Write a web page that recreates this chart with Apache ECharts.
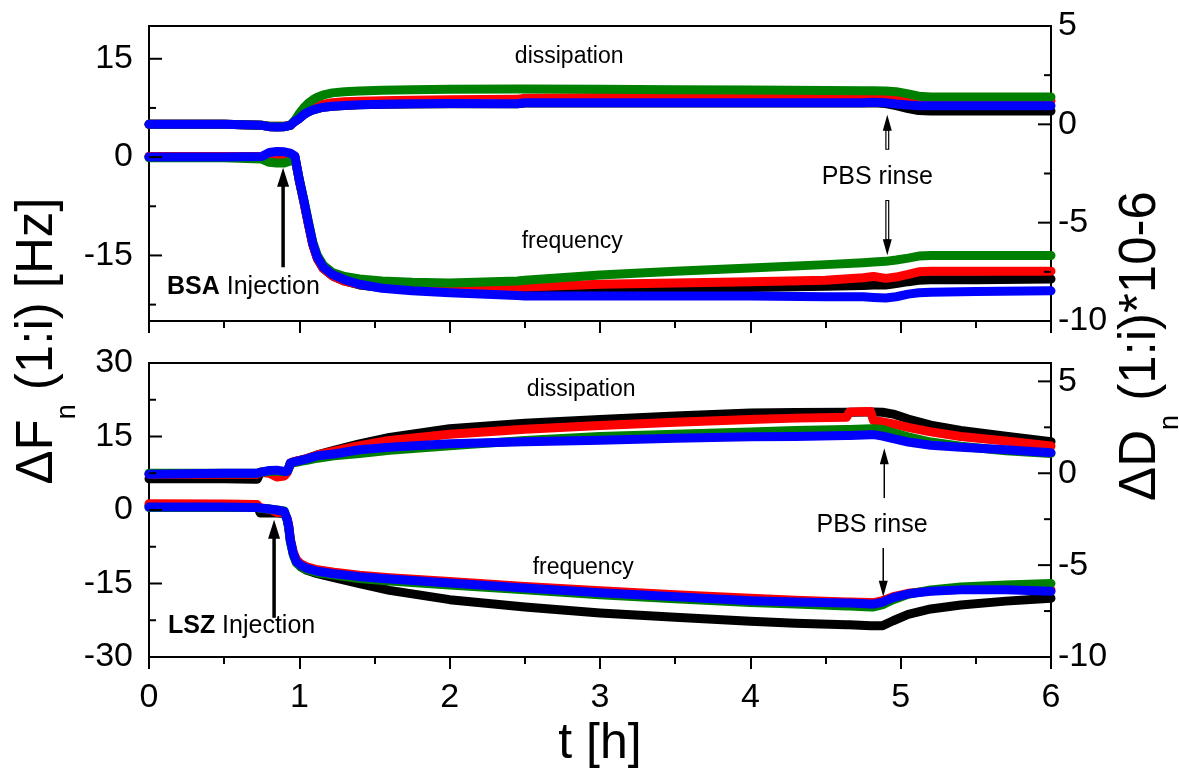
<!DOCTYPE html>
<html>
<head>
<meta charset="utf-8">
<script src="https://cdn.jsdelivr.net/npm/echarts@6/dist/echarts.min.js"></script>
<style>html,body{margin:0;padding:0;background:#fff}#c{width:1179px;height:776px}</style>
</head>
<body>
<div id="c"></div>
<script>
// ---------- DATA ----------
// Top panel (BSA) time points [h]
const tTop = [0, 0.5, 0.75, 0.8, 0.85, 0.9, 0.94, 0.97, 1.0, 1.03, 1.06, 1.09, 1.12, 1.16, 1.22, 1.3, 1.4, 1.55, 1.75, 2.0, 2.45, 2.5, 3.0, 3.5, 4.0, 4.5, 4.75, 4.82, 4.9, 4.97, 5.05, 5.12, 5.2, 5.5, 6.0];
// Top frequency ΔF [Hz]
const topFreqBlack = [0.1, 0.1, 0.1, 0.3, 0.3, 0.3, 0.3, 0.1, -3.6, -6.8, -10.2, -13.4, -15.5, -17.0, -18.1, -18.9, -19.5, -19.9, -20.1, -20.2, -20.3, -20.3, -20.2, -20.0, -19.9, -19.7, -19.6, -19.5, -19.5, -19.3, -19.0, -18.8, -18.7, -18.7, -18.6];
const topFreqRed   = [0.1, 0.1, 0.1, 0.3, 0.3, 0.3, 0.3, 0.1, -3.6, -6.8, -10.2, -13.4, -15.5, -17.0, -18.1, -18.9, -19.4, -19.8, -20.0, -20.0, -19.9, -19.8, -19.4, -19.2, -19.0, -18.8, -18.4, -18.2, -18.5, -18.3, -17.9, -17.5, -17.4, -17.4, -17.4];
const topFreqGreen = [-0.1, -0.1, -0.3, -0.8, -0.9, -0.9, -0.6, -0.2, -3.4, -6.5, -9.8, -13.0, -15.0, -16.5, -17.6, -18.2, -18.6, -18.9, -19.1, -19.2, -18.9, -18.8, -18.0, -17.4, -16.9, -16.4, -16.1, -16.0, -15.9, -15.7, -15.4, -15.1, -15.0, -15.0, -15.0];
const topFreqBlue  = [0, 0, 0.1, 0.7, 0.85, 0.8, 0.6, 0.2, -3.5, -6.6, -10.0, -13.2, -15.3, -16.8, -17.9, -18.7, -19.4, -20.0, -20.4, -20.7, -21.1, -21.2, -21.2, -21.2, -21.2, -21.3, -21.3, -21.4, -21.5, -21.3, -20.9, -20.7, -20.6, -20.5, -20.4];
// Top dissipation ΔD [1e-6]
const topDissBlack = [0, 0, -0.05, -0.12, -0.14, -0.12, -0.05, 0.15, 0.3, 0.5, 0.63, 0.73, 0.8, 0.87, 0.92, 0.96, 0.99, 1.02, 1.04, 1.05, 1.05, 1.08, 1.08, 1.08, 1.08, 1.08, 1.08, 1.1, 1.06, 0.95, 0.8, 0.7, 0.68, 0.68, 0.68];
const topDissRed   = [0, 0, -0.05, -0.1, -0.1, -0.1, -0.05, 0.15, 0.35, 0.55, 0.72, 0.85, 0.95, 1.03, 1.1, 1.15, 1.18, 1.2, 1.22, 1.25, 1.27, 1.33, 1.36, 1.37, 1.37, 1.37, 1.37, 1.4, 1.38, 1.33, 1.27, 1.22, 1.2, 1.2, 1.2];
const topDissGreen = [0, 0, -0.05, -0.1, -0.1, -0.1, -0.05, 0.2, 0.55, 0.85, 1.08, 1.25, 1.38, 1.5, 1.6, 1.66, 1.7, 1.73, 1.76, 1.78, 1.8, 1.8, 1.78, 1.76, 1.74, 1.72, 1.71, 1.71, 1.7, 1.66, 1.55, 1.43, 1.39, 1.39, 1.39];
const topDissBlue  = [0, 0, -0.05, -0.12, -0.14, -0.12, -0.05, 0.15, 0.3, 0.5, 0.63, 0.73, 0.8, 0.87, 0.92, 0.96, 0.99, 1.02, 1.05, 1.06, 1.05, 1.1, 1.1, 1.1, 1.1, 1.1, 1.1, 1.12, 1.1, 1.03, 0.98, 0.95, 0.94, 0.94, 0.95];

// Bottom panel (LSZ) time points [h]
const tBot = [0, 0.5, 0.7, 0.72, 0.74, 0.8, 0.85, 0.9, 0.92, 0.93, 0.94, 0.96, 0.98, 1.01, 1.05, 1.12, 1.23, 1.4, 1.6, 2.0, 2.5, 3.0, 3.5, 4.0, 4.3, 4.64, 4.66, 4.8, 4.82, 4.88, 4.95, 5.05, 5.2, 5.4, 5.7, 6.0];
// Bottom dissipation ΔD [1e-6]
const botDissBlack = [-0.3, -0.3, -0.32, -0.32, 0.05, 0.1, 0.1, 0.08, 0.1, 0.3, 0.55, 0.62, 0.66, 0.72, 0.8, 1.0, 1.25, 1.6, 1.95, 2.42, 2.72, 2.93, 3.12, 3.28, 3.3, 3.32, 3.32, 3.33, 3.33, 3.32, 3.22, 2.95, 2.62, 2.33, 2.02, 1.72];
const botDissRed   = [-0.05, -0.05, -0.05, -0.05, 0.05, 0.0, -0.2, -0.15, 0.05, 0.3, 0.55, 0.62, 0.66, 0.72, 0.8, 1.0, 1.2, 1.5, 1.78, 2.12, 2.4, 2.6, 2.78, 2.93, 3.0, 3.05, 3.34, 3.36, 2.85, 2.8, 2.68, 2.5, 2.25, 2.0, 1.76, 1.48];
const botDissGreen = [0.0, 0.0, 0.0, 0.0, 0.05, 0.1, 0.12, 0.08, 0.1, 0.28, 0.5, 0.56, 0.6, 0.65, 0.7, 0.82, 0.95, 1.08, 1.25, 1.5, 1.78, 2.0, 2.12, 2.25, 2.32, 2.38, 2.38, 2.42, 2.42, 2.38, 2.2, 1.98, 1.7, 1.47, 1.23, 1.08];
const botDissBlue  = [-0.05, 0.0, 0.0, 0.0, 0.05, 0.15, 0.17, 0.1, 0.1, 0.3, 0.55, 0.6, 0.64, 0.7, 0.78, 0.95, 1.05, 1.28, 1.42, 1.6, 1.72, 1.8, 1.9, 1.98, 2.0, 2.05, 2.05, 2.1, 2.1, 2.02, 1.88, 1.7, 1.52, 1.42, 1.28, 1.12];
// Bottom frequency ΔF [Hz]
const botFreqBlack = [0.9, 0.9, 0.9, 0.9, -0.6, -0.6, -0.6, -0.7, -2.0, -3.6, -6.2, -9.0, -10.5, -11.6, -12.3, -13.0, -13.8, -15.0, -16.4, -18.3, -19.8, -21.0, -21.9, -22.7, -23.1, -23.4, -23.4, -23.6, -23.6, -23.6, -22.6, -21.3, -20.2, -19.4, -18.6, -18.0];
const botFreqRed   = [1.3, 1.2, 1.1, 1.1, 0.4, 0.2, -0.5, -0.5, -1.8, -3.3, -5.9, -8.6, -10.1, -11.0, -11.6, -12.2, -12.7, -13.3, -13.8, -14.6, -15.6, -16.5, -17.3, -18.0, -18.4, -18.8, -18.8, -18.9, -18.9, -18.5, -17.7, -17.0, -16.5, -16.2, -16.1, -16.3];
const botFreqGreen = [0.5, 0.5, 0.5, 0.5, 0.3, 0.2, 0.0, -0.2, -2.2, -3.8, -6.4, -9.2, -10.8, -11.6, -12.2, -12.8, -13.3, -14.0, -14.5, -15.3, -16.3, -17.3, -18.1, -18.9, -19.2, -19.6, -19.6, -19.8, -19.8, -19.3, -18.3, -17.2, -16.3, -15.7, -15.3, -15.0];
const botFreqBlue  = [0.6, 0.6, 0.5, 0.5, 0.4, 0.2, 0.0, -0.3, -2.0, -3.5, -6.1, -8.9, -10.5, -11.3, -11.9, -12.5, -13.0, -13.6, -14.1, -14.9, -15.9, -16.9, -17.7, -18.5, -18.8, -19.0, -19.0, -19.2, -19.2, -18.8, -17.9, -17.1, -16.6, -16.3, -16.3, -16.6];

// Axis tick / label values
const topLeftLabels = [-15, 0, 15];
const topLeftMajor = [-15, 0, 15];
const topLeftMinor = [-22.5, -7.5, 7.5];
const topRightLabels = [-10, -5, 0, 5];
const topRightMajor = [-5, 0];
const topRightMinor = [-7.5, -2.5, 2.5];
const botLeftLabels = [-30, -15, 0, 15, 30];
const botLeftMajor = [-15, 0, 15];
const botLeftMinor = [-22.5, -7.5, 7.5, 22.5];
const botRightLabels = [-10, -5, 0, 5];
const botRightMajor = [-5, 0, 5];
const botRightMinor = [-7.5, -2.5, 2.5];

// ---------- CHART ----------
const FF = "'Liberation Sans', Arial, Helvetica, sans-serif";
const COL = { black: '#000000', red: '#ff0000', green: '#008000', blue: '#0000ff' };
const chart = echarts.init(document.getElementById('c'), null, { renderer: 'canvas' });

function xAx(gi, showLabels) {
  const a = {
    gridIndex: gi, type: 'value', min: 0, max: 6, interval: 1, position: 'bottom',
    axisLine: { show: false, onZero: false }, splitLine: { show: false },
    axisTick: { show: true, inside: false, length: 12, lineStyle: { color: '#000', width: 2 } },
    minorTick: { show: true, splitNumber: 2, length: 7, lineStyle: { color: '#000', width: 2 } },
    minorSplitLine: { show: false },
    axisLabel: { show: showLabels, fontSize: 34, color: '#000', fontFamily: FF, margin: 24, showMinLabel: true, showMaxLabel: true }
  };
  if (showLabels) {
    a.name = 't [h]';
    a.nameLocation = 'middle';
    a.nameGap = 62;
    a.nameTextStyle = { fontSize: 50, color: '#000', fontFamily: FF };
  }
  return a;
}
function yAx(gi, pos, min, max, labels) {
  return {
    gridIndex: gi, type: 'value', position: pos, min: min, max: max,
    axisLine: { show: false, onZero: false }, splitLine: { show: false }, axisTick: { show: false },
    axisLabel: { show: true, customValues: labels, fontSize: 34, color: '#000', fontFamily: FF,
      margin: pos === 'left' ? 16 : 7, showMinLabel: true, showMaxLabel: true }
  };
}
function line(xi, yi, times, vals, color) {
  return {
    type: 'line', xAxisIndex: xi, yAxisIndex: yi,
    data: times.map((t, i) => [t, vals[i]]),
    symbol: 'none', showSymbol: false, smooth: false, animation: false, silent: true,
    lineStyle: { color: COL[color], width: 9, cap: 'round', join: 'round' },
    itemStyle: { color: COL[color] }
  };
}

const gridStyle = { show: true, borderColor: '#000', borderWidth: 2, backgroundColor: 'rgba(0,0,0,0)', containLabel: false, outerBoundsMode: 'none' };

chart.setOption({
  backgroundColor: '#ffffff',
  animation: false,
  grid: [
    Object.assign({ left: 149, top: 26, width: 902, height: 295 }, gridStyle),
    Object.assign({ left: 149, top: 363, width: 902, height: 294 }, gridStyle)
  ],
  xAxis: [xAx(0, false), xAx(1, true)],
  yAxis: [
    yAx(0, 'left', -25, 20, topLeftLabels),    // 0 top ΔF
    yAx(0, 'right', -10, 5, topRightLabels),   // 1 top ΔD
    yAx(1, 'left', -30, 30, botLeftLabels),    // 2 bottom ΔF
    yAx(1, 'right', -10, 6, botRightLabels)    // 3 bottom ΔD
  ],
  series: [
    line(0, 1, tTop, topDissBlack, 'black'),
    line(0, 1, tTop, topDissRed, 'red'),
    line(0, 1, tTop, topDissGreen, 'green'),
    line(0, 1, tTop, topDissBlue, 'blue'),
    line(0, 0, tTop, topFreqBlack, 'black'),
    line(0, 0, tTop, topFreqRed, 'red'),
    line(0, 0, tTop, topFreqGreen, 'green'),
    line(0, 0, tTop, topFreqBlue, 'blue'),
    line(1, 3, tBot, botDissBlack, 'black'),
    line(1, 3, tBot, botDissRed, 'red'),
    line(1, 3, tBot, botDissGreen, 'green'),
    line(1, 3, tBot, botDissBlue, 'blue'),
    line(1, 2, tBot, botFreqBlack, 'black'),
    line(1, 2, tBot, botFreqRed, 'red'),
    line(1, 2, tBot, botFreqGreen, 'green'),
    line(1, 2, tBot, botFreqBlue, 'blue')
  ]
});

const P = (ax, t, v) => chart.convertToPixel(ax, [t, v]);
const els = [];

// ---------- Y-AXIS TICKS (positions from each axis scale) ----------
const tickSpecs = [
  { ax: { xAxisIndex: 0, yAxisIndex: 0 }, side: 'left', major: topLeftMajor, minor: topLeftMinor },
  { ax: { xAxisIndex: 0, yAxisIndex: 1 }, side: 'right', major: topRightMajor, minor: topRightMinor },
  { ax: { xAxisIndex: 1, yAxisIndex: 2 }, side: 'left', major: botLeftMajor, minor: botLeftMinor },
  { ax: { xAxisIndex: 1, yAxisIndex: 3 }, side: 'right', major: botRightMajor, minor: botRightMinor }
];
tickSpecs.forEach(s => {
  const edgeT = s.side === 'left' ? 0 : 6;
  const dir = s.side === 'left' ? 1 : -1;
  [[s.major, 13], [s.minor, 7]].forEach(([vals, len]) => {
    vals.forEach(v => {
      const p = P(s.ax, edgeT, v);
      els.push({ type: 'line', z: 50, silent: true,
        shape: { x1: p[0], y1: p[1], x2: p[0] + dir * len, y2: p[1] },
        style: { stroke: '#000', lineWidth: 2 } });
    });
  });
});

// ---------- ANNOTATIONS (placed in data coordinates of each panel's left axis) ----------
const topAx = { xAxisIndex: 0, yAxisIndex: 0 };
const botAx = { xAxisIndex: 1, yAxisIndex: 2 };

const texts = [
  { ax: topAx, at: [2.795, 15.36], text: 'dissipation', size: 23, align: 'center' },
  { ax: topAx, at: [2.815, -12.97], text: 'frequency', size: 23, align: 'center' },
  { ax: topAx, at: [4.844, -2.98], text: 'PBS rinse', size: 25, align: 'center' },
  { ax: topAx, at: [0.12, -19.8], text: '{b|BSA} Injection', size: 25, align: 'left' },
  { ax: botAx, at: [2.875, 24.6], text: 'dissipation', size: 23, align: 'center' },
  { ax: botAx, at: [2.888, -11.8], text: 'frequency', size: 23, align: 'center' },
  { ax: botAx, at: [4.81, -3.05], text: 'PBS rinse', size: 25, align: 'center' },
  { ax: botAx, at: [0.126, -23.6], text: '{b|LSZ} Injection', size: 25, align: 'left' }
];
const arrows = [
  { ax: topAx, from: [0.892, -16.8], to: [0.892, -1.63], w: 3.5, head: [12, 19], hollow: false },
  { ax: topAx, from: [4.911, 1.12], to: [4.911, 6.48], w: 4, head: [9, 16], hollow: true },
  { ax: topAx, from: [4.911, -6.54], to: [4.911, -14.96], w: 4, head: [9, 16], hollow: true },
  { ax: botAx, from: [0.832, -22.0], to: [0.832, -2.0], w: 3.5, head: [12, 19], hollow: false },
  { ax: botAx, from: [4.891, 2.44], to: [4.891, 12.6], w: 1.5, head: [9, 16], hollow: false },
  { ax: botAx, from: [4.884, -7.74], to: [4.884, -17.7], w: 1.5, head: [9, 16], hollow: false }
];

texts.forEach(a => {
  const p = P(a.ax, a.at[0], a.at[1]);
  els.push({
    type: 'text', x: p[0], y: p[1], z: 100,
    style: {
      text: a.text, fontSize: a.size, fontFamily: FF, fill: '#000',
      align: a.align, verticalAlign: 'middle',
      rich: { b: { fontSize: a.size, fontFamily: FF, fontWeight: 'bold', fill: '#000' } }
    }
  });
});
arrows.forEach(a => {
  const p0 = P(a.ax, a.from[0], a.from[1]);
  const p1 = P(a.ax, a.to[0], a.to[1]);
  const dx = p1[0] - p0[0], dy = p1[1] - p0[1];
  const L = Math.hypot(dx, dy), ux = dx / L, uy = dy / L;
  const hw = a.head[0] / 2, hl = a.head[1];
  const bx = p1[0] - ux * hl, by = p1[1] - uy * hl;
  els.push({ type: 'line', z: 100, shape: { x1: p0[0], y1: p0[1], x2: bx + ux * 2, y2: by + uy * 2 },
    style: { stroke: '#000', lineWidth: a.w } });
  if (a.hollow) {
    els.push({ type: 'line', z: 101, shape: { x1: p0[0], y1: p0[1] + uy * 1, x2: bx, y2: by },
      style: { stroke: '#fff', lineWidth: a.w - 2.4 } });
  }
  els.push({ type: 'polygon', z: 102,
    shape: { points: [[p1[0], p1[1]], [bx - uy * hw, by + ux * hw], [bx + uy * hw, by - ux * hw]] },
    style: { fill: '#000' } });
});

// Rotated y-axis titles spanning both panels
function yTitle(x, y, main1, sub, main2) {
  return {
    type: 'text', x: x, y: y, rotation: Math.PI / 2, z: 100,
    style: {
      text: '{a|' + main1 + '}{s|' + sub + '}{a|' + main2 + '}',
      align: 'center', verticalAlign: 'middle', fill: '#000',
      rich: {
        a: { fontSize: 51, lineHeight: 56, fontFamily: FF, fill: '#000', verticalAlign: 'top' },
        s: { fontSize: 27, lineHeight: 27, fontFamily: FF, fill: '#000', verticalAlign: 'top', padding: [42, 0, 0, 0] }
      }
    }
  };
}
els.push(yTitle(40, 341, 'ΔF', 'n', ' (1:i) [Hz]'));
els.push(yTitle(1143, 346, 'ΔD', 'n', ' (1:i)*10-6'));

chart.setOption({ graphic: els });
</script>
</body>
</html>
